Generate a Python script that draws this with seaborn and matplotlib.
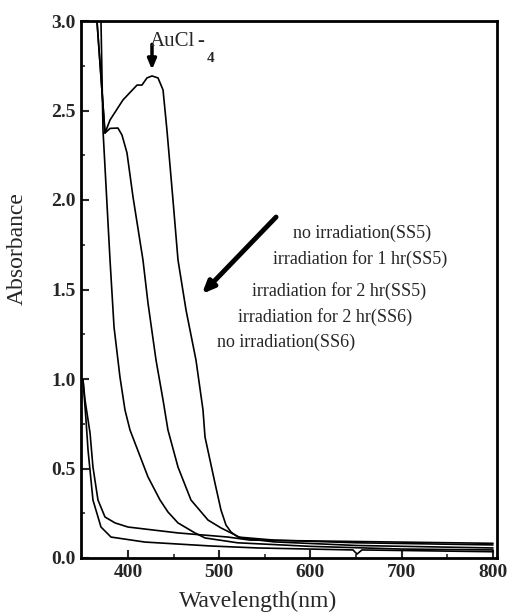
import matplotlib
matplotlib.use('Agg')
import matplotlib.pyplot as plt
import numpy as np
import pandas as pd
import seaborn as sb

# curves (wavelength nm, absorbance)
wlNoIrrSS5 = [366.0, 374.8, 380.3, 394.5, 409.9, 415.3, 420.8, 426.3, 432.9, 438.4, 442.7, 449.3, 454.8,
              463.6, 474.5, 482.2, 484.4, 495.3, 501.9, 507.4, 512.9, 520.5, 560, 650, 800]
absNoIrrSS5 = [3.0, 2.374, 2.447, 2.559, 2.642, 2.642, 2.682, 2.693, 2.682, 2.615, 2.39, 2.0, 1.665,
               1.385, 1.106, 0.827, 0.676, 0.419, 0.268, 0.184, 0.145, 0.117, 0.10, 0.085, 0.073]

wl1hrSS5 = [366.0, 374.8, 380.3, 389.0, 393.4, 398.9, 405.5, 416.4, 421.9, 430.7, 438.4, 443.8, 454.8,
            469.0, 487.7, 501.9, 512.9, 523.8, 560, 650, 800]
abs1hrSS5 = [3.0, 2.374, 2.40, 2.402, 2.363, 2.263, 2.017, 1.665, 1.425, 1.106, 0.883, 0.715, 0.508,
             0.324, 0.212, 0.168, 0.14, 0.112, 0.09, 0.07, 0.056]

wl2hrSS5 = [370.4, 372.6, 380.3, 384.7, 391.2, 396.7, 402.2, 421.9, 435.1, 443.8, 454.8, 473.4, 484.4,
            520, 600, 700, 800]
abs2hrSS5 = [3.0, 2.391, 1.665, 1.29, 1.011, 0.827, 0.715, 0.453, 0.324, 0.257, 0.196, 0.14, 0.112,
             0.085, 0.065, 0.05, 0.045]

wl2hrSS6 = [350.7, 352.9, 358.4, 361.6, 367.1, 374.8, 385.8, 400, 454.8, 509.6, 533.7, 800]
abs2hrSS6 = [0.994, 0.883, 0.698, 0.508, 0.324, 0.229, 0.196, 0.173, 0.14, 0.117, 0.10, 0.082]

wlNoIrrSS6 = [350.7, 354.0, 356.2, 361.6, 370.4, 381.4, 418.6, 491, 542.5, 646.6, 651, 656.4, 800]
absNoIrrSS6 = [0.994, 0.77, 0.603, 0.324, 0.173, 0.117, 0.089, 0.067, 0.056, 0.045, 0.022, 0.045, 0.035]

curveLabels = ['no irradiation(SS5)', 'irradiation for 1 hr(SS5)', 'irradiation for 2 hr(SS5)',
               'irradiation for 2 hr(SS6)', 'no irradiation(SS6)']
curveWl = [wlNoIrrSS5, wl1hrSS5, wl2hrSS5, wl2hrSS6, wlNoIrrSS6]
curveAbs = [absNoIrrSS5, abs1hrSS5, abs2hrSS5, abs2hrSS6, absNoIrrSS6]

xTicks = [400, 500, 600, 700, 800]
yTicks = [0.0, 0.5, 1.0, 1.5, 2.0, 2.5, 3.0]

frames = []
for ll in range(len(curveLabels)):
    frames.append(pd.DataFrame({'wl': curveWl[ll], 'abs': curveAbs[ll], 'curve': curveLabels[ll]}))
spectra = pd.concat(frames, ignore_index=True)

sb.set_style('ticks')
plt.rcParams['font.family'] = ['Liberation Serif', 'DejaVu Serif']
plt.rcParams['xtick.direction'] = 'in'
plt.rcParams['ytick.direction'] = 'in'

fig = plt.figure(figsize=(5.1, 6.12), dpi=100)
ax = fig.add_axes([81/510, 1 - 558/612, 416/510, 537/612])

sb.lineplot(data=spectra, x='wl', y='abs', hue='curve', units='curve', estimator=None,
            palette=['black']*5, linewidth=1.2, legend=False, ax=ax)

ax.set_xlim(348.5, 804.4)
ax.set_ylim(0, 3.0)
ax.set_xticks(xTicks)
ax.set_yticks(yTicks)
ax.set_xticks([450, 550, 650, 750], minor=True)
ax.set_yticks([0.25, 0.75, 1.25, 1.75, 2.25, 2.75], minor=True)
ax.set_xticklabels([str(t) for t in xTicks], fontweight='bold', fontsize=14)
ax.set_yticklabels(['%.1f' % t for t in yTicks], fontweight='bold', fontsize=14)
ax.tick_params(which='major', length=6, width=1.5, pad=4, top=False, right=False)
ax.tick_params(which='minor', length=3, width=1.2, top=False, right=False)
for sp in ax.spines.values():
    sp.set_linewidth(2)
    sp.set_color('black')

ax.set_xlabel('Wavelength(nm)', fontsize=17, labelpad=4)
ax.xaxis.set_label_coords(0.425, -0.062)
ax.set_ylabel('Absorbance', fontsize=17)
ax.yaxis.set_label_coords(-0.128, 0.577)

# labels for the curves, stepped down to the left
textPos = [(0.510, 0.605), (0.462, 0.557), (0.411, 0.497), (0.377, 0.449), (0.327, 0.402)]
for ll in range(len(curveLabels)):
    ax.text(textPos[ll][0], textPos[ll][1], curveLabels[ll], transform=ax.transAxes,
            fontsize=13, ha='left', va='center')

ax.annotate('', xy=(478.9, 1.464), xytext=(564.4, 1.916),
            arrowprops=dict(arrowstyle='-|>,head_length=0.7,head_width=0.3', lw=3.5, color='black'))

# AuCl4- peak marker
ax.annotate('', xy=(426.3, 2.712), xytext=(426.3, 2.885),
            arrowprops=dict(arrowstyle='-|>,head_length=0.6,head_width=0.25', lw=2.5, color='black'))
ax.text(424, 2.86, 'AuCl', fontsize=15, ha='left', va='baseline')
ax.text(476, 2.86, '-', fontsize=15, ha='left', va='baseline')
ax.text(486, 2.77, '4', fontsize=11, fontweight='bold', ha='left', va='baseline')

fig.savefig('out.png', dpi=100)
plt.close()
